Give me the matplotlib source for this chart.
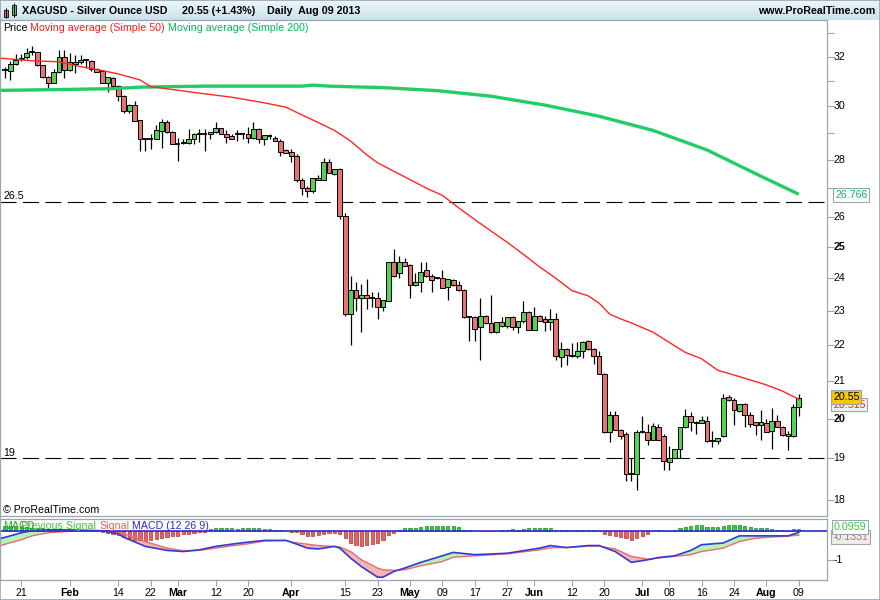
import matplotlib
matplotlib.use("Agg")
import matplotlib.pyplot as plt
import matplotlib.ticker as mticker
from matplotlib.patches import Rectangle
import numpy as np

plt.rcParams['font.family'] = ['Liberation Sans', 'DejaVu Sans']

W, H = 880, 600

#####################################
# XAGUSD daily, 16 Jan 2013 .. 09 Aug 2013 (one entry per weekday)
opens = [31.45, 31.43, 31.70, 31.90, 31.98, 32.18, 32.18, 31.64, 31.17, 30.94,
         31.36, 31.97, 31.45, 31.80, 31.77, 31.86, 31.83, 31.48, 31.43, 30.94,
         31.13, 30.80, 30.41, 29.81, 30.07, 29.47, 28.74, 28.74, 28.77, 29.06,
         29.39, 29.02, 28.58, 28.60, 28.62, 28.77, 28.93, 28.93, 28.93, 29.02,
         29.16, 28.93, 28.87, 28.96, 28.96, 28.93, 28.80, 29.12, 28.77, 28.87,
         28.80, 28.67, 28.35, 28.27, 28.13, 27.27, 26.97, 26.89, 27.35, 27.27,
         27.92, 27.49, 27.65, 26.02, 22.91, 23.64, 23.41, 23.49, 23.41, 23.41,
         23.11, 23.30, 24.53, 24.17, 24.50, 24.43, 23.79, 23.89, 24.25, 24.07,
         24.00, 24.00, 23.72, 23.96, 23.79, 23.64, 22.84, 22.84, 22.52, 22.86,
         22.65, 22.39, 22.67, 22.55, 22.82, 22.52, 22.70, 22.97, 22.44, 22.86,
         22.77, 22.67, 22.77, 21.66, 21.89, 21.71, 21.69, 21.83, 22.13, 21.89,
         21.69, 21.21, 19.65, 20.11, 19.72, 19.60, 18.61, 18.61, 19.66, 19.66,
         19.47, 19.80, 19.56, 18.91, 19.02, 19.24, 19.78, 20.08, 19.90, 19.90,
         19.94, 19.42, 19.42, 19.56, 20.57, 20.50, 20.20, 20.39, 20.09, 19.91,
         19.85, 19.88, 19.68, 19.95, 19.80, 19.56, 19.56, 20.30]
highs = [31.57, 31.83, 32.10, 32.10, 32.35, 32.45, 32.20, 31.66, 31.19, 31.48,
         32.28, 32.28, 32.14, 32.07, 32.07, 31.92, 31.86, 31.52, 31.46, 31.17,
         31.17, 30.86, 30.45, 30.10, 30.20, 29.47, 28.80, 28.96, 29.27, 29.50,
         29.47, 29.06, 28.80, 28.77, 29.12, 28.98, 29.12, 29.12, 29.03, 29.39,
         29.16, 29.10, 28.93, 29.08, 29.00, 29.20, 29.39, 29.16, 28.92, 28.93,
         28.87, 28.77, 28.40, 28.40, 28.20, 27.35, 27.05, 27.35, 27.43, 28.05,
         28.01, 27.65, 27.70, 26.13, 24.07, 23.88, 23.83, 23.97, 23.59, 23.59,
         23.34, 24.53, 24.92, 24.70, 24.63, 24.45, 24.17, 24.50, 24.53, 24.15,
         24.02, 24.27, 23.99, 23.98, 23.92, 23.66, 22.86, 22.86, 23.39, 22.88,
         23.49, 22.67, 22.84, 22.82, 22.86, 22.72, 23.30, 23.00, 23.13, 22.88,
         22.86, 23.06, 22.95, 22.10, 21.92, 22.07, 22.09, 22.13, 22.15, 21.92,
         21.83, 21.23, 20.20, 20.20, 19.74, 19.66, 19.00, 19.71, 20.08, 19.87,
         19.90, 19.86, 19.60, 19.30, 19.24, 19.80, 20.25, 20.18, 19.94, 20.08,
         20.08, 19.68, 19.52, 20.65, 20.62, 20.55, 20.39, 20.41, 20.18, 19.93,
         20.22, 20.00, 20.27, 20.09, 19.82, 19.69, 20.39, 20.66]
lows = [31.13, 31.05, 31.66, 31.83, 31.89, 32.07, 31.62, 31.13, 30.74, 30.92,
        31.32, 31.13, 31.43, 31.34, 31.70, 31.53, 31.43, 31.36, 30.92, 30.55,
        30.80, 30.22, 29.74, 29.74, 29.45, 28.31, 28.31, 28.40, 28.77, 28.44,
        29.00, 28.58, 27.93, 28.56, 28.56, 28.56, 28.63, 28.33, 28.77, 28.98,
        28.93, 28.60, 28.74, 28.67, 28.77, 28.62, 28.77, 28.62, 28.54, 28.74,
        28.67, 28.12, 28.23, 27.90, 27.19, 26.75, 26.68, 26.81, 27.27, 27.27,
        27.51, 27.45, 25.93, 22.86, 22.00, 23.00, 22.39, 23.06, 23.11, 22.77,
        23.00, 23.30, 24.05, 24.00, 24.38, 23.39, 23.76, 23.59, 24.05, 23.59,
        23.97, 23.70, 23.32, 23.77, 23.60, 22.80, 22.13, 22.13, 21.60, 22.63,
        22.37, 22.37, 22.53, 22.50, 22.45, 22.37, 22.66, 22.44, 22.44, 22.70,
        22.40, 22.45, 21.60, 21.40, 21.45, 21.66, 21.65, 21.65, 21.87, 21.48,
        21.19, 19.63, 19.40, 19.70, 19.49, 18.44, 18.44, 18.24, 19.64, 19.33,
        19.45, 19.45, 18.71, 18.71, 19.00, 19.02, 19.76, 19.69, 19.60, 19.88,
        19.40, 19.29, 19.35, 19.54, 20.48, 19.83, 20.17, 19.79, 19.79, 19.59,
        19.45, 19.65, 19.24, 19.78, 19.57, 19.20, 19.54, 20.08]
closes = [31.45, 31.70, 31.86, 31.96, 32.17, 32.18, 31.64, 31.17, 30.94, 31.36,
          31.97, 31.45, 31.80, 31.70, 31.86, 31.86, 31.48, 31.38, 30.94, 31.17,
          30.80, 30.41, 29.81, 30.07, 29.45, 28.77, 28.74, 28.74, 29.09, 29.39,
          29.02, 28.58, 28.58, 28.66, 28.77, 28.96, 28.93, 28.93, 29.03, 29.16,
          28.93, 28.85, 28.77, 28.96, 28.96, 28.80, 29.12, 28.74, 28.90, 28.87,
          28.67, 28.27, 28.25, 28.13, 27.27, 26.97, 26.89, 27.35, 27.27, 27.92,
          27.51, 27.65, 26.02, 22.91, 23.64, 23.39, 23.49, 23.39, 23.41, 23.11,
          23.34, 24.53, 24.07, 24.50, 24.40, 23.79, 23.89, 24.20, 24.07, 23.94,
          24.00, 23.70, 23.97, 23.79, 23.64, 22.82, 22.84, 22.46, 22.86, 22.65,
          22.39, 22.67, 22.55, 22.82, 22.52, 22.70, 22.97, 22.44, 22.86, 22.72,
          22.67, 22.77, 21.69, 21.89, 21.73, 21.71, 21.83, 22.10, 21.89, 21.71,
          21.21, 19.65, 20.11, 19.72, 19.56, 18.61, 18.61, 19.66, 19.66, 19.47,
          19.82, 19.47, 18.93, 19.02, 19.24, 19.78, 20.08, 19.91, 19.90, 19.96,
          19.42, 19.42, 19.52, 20.55, 20.50, 20.22, 20.39, 20.09, 19.87, 19.85,
          19.91, 19.67, 19.95, 19.80, 19.59, 19.62, 20.30, 20.55]

# moving averages, read at sample days (day index -> value)
ma50_idx = [-1, 5, 10, 14, 18, 21, 25, 27, 36, 42, 48, 52, 55, 58, 61, 64, 67, 69,
            72, 75, 78, 81, 84, 87, 90, 93, 96, 99, 102, 105, 108, 110, 112, 114,
            116, 120, 124, 126, 129, 132, 135, 137, 141, 144, 147]
ma50_val = [31.94, 31.83, 31.79, 31.59, 31.43, 31.29, 31.05, 30.78, 30.52, 30.36,
            30.14, 29.97, 29.67, 29.38, 29.08, 28.68, 28.17, 27.88, 27.58, 27.28,
            26.98, 26.73, 26.30, 25.90, 25.52, 25.15, 24.76, 24.36, 24.00, 23.62,
            23.46, 23.24, 22.91, 22.77, 22.65, 22.38, 21.99, 21.80, 21.62, 21.30,
            21.17, 21.08, 20.90, 20.73, 20.515]
ma200_idx = [-1, 12, 20, 25, 37, 55, 57, 60, 70, 80, 90, 100, 110, 120, 130, 140, 147]
ma200_val = [30.63, 30.67, 30.70, 30.76, 30.80, 30.80, 30.84, 30.80, 30.74, 30.62,
             30.40, 30.05, 29.62, 29.08, 28.35, 27.40, 26.766]

# MACD (12 26 9)
macd_idx = [-1, 1, 3, 5, 8, 12, 18, 21, 22, 26, 30, 33, 36, 39, 42, 45, 48, 52, 53, 56,
            58, 61, 62, 64, 66, 69, 70, 72, 74, 77, 81, 83, 87, 93, 99, 101, 104, 108,
            110, 113, 116, 119, 121, 124, 127, 129, 133, 136, 139, 142, 145, 147]
macd_val = [-0.26, -0.16, -0.05, 0.02, 0.05, 0.05, 0.02, -0.09, -0.21, -0.53,
            -0.67, -0.71, -0.65, -0.53, -0.45, -0.38, -0.32, -0.32, -0.38, -0.59,
            -0.62, -0.53, -0.59, -0.94, -1.24, -1.61, -1.61, -1.41, -1.29, -1.09,
            -0.86, -0.74, -0.82, -0.77, -0.59, -0.50, -0.57, -0.50, -0.50, -0.71,
            -1.09, -1.00, -0.92, -0.86, -0.67, -0.47, -0.41, -0.16, -0.16, -0.16,
            -0.16, -0.04]
signal_val = [-0.51, -0.40, -0.30, -0.16, -0.05, 0.00, 0.02, -0.02, -0.08, -0.36,
              -0.59, -0.68, -0.67, -0.59, -0.51, -0.44, -0.34, -0.32, -0.38, -0.45,
              -0.50, -0.53, -0.55, -0.71, -1.00, -1.29, -1.35, -1.37, -1.35, -1.21,
              -1.06, -0.91, -0.86, -0.79, -0.65, -0.58, -0.57, -0.52, -0.52, -0.62,
              -0.88, -0.98, -0.94, -0.88, -0.82, -0.71, -0.59, -0.36, -0.24, -0.20,
              -0.17, -0.133]
histo = [0.20, 0.20, 0.18, 0.17, 0.15, 0.13, 0.11, 0.10, 0.08, 0.08,
         0.07, 0.06, 0.05, 0.05, 0.04, 0.03, 0.02, 0.01, -0.03, -0.05,
         -0.08, -0.13, -0.19, -0.25, -0.29, -0.31, -0.33, -0.31, -0.28, -0.23,
         -0.19, -0.17, -0.15, -0.11, -0.08, -0.05, -0.03, -0.01, 0.09, 0.10,
         0.10, 0.10, 0.10, 0.09, 0.10, 0.10, 0.10, 0.10, 0.09, 0.08,
         0.06, 0.04, 0.01, -0.01, -0.03, -0.08, -0.15, -0.15, -0.12, -0.08,
         -0.05, -0.06, -0.08, -0.22, -0.40, -0.49, -0.50, -0.49, -0.45, -0.40,
         -0.31, -0.13, -0.05, 0.04, 0.10, 0.10, 0.13, 0.16, 0.19, 0.20,
         0.20, 0.18, 0.18, 0.18, 0.16, 0.06, 0.04, 0.00, 0.00, 0.00,
         0.00, 0.00, 0.04, 0.06, 0.08, 0.06, 0.09, 0.10, 0.10, 0.10,
         0.12, 0.13, 0.06, 0.04, 0.04, 0.00, 0.04, 0.04, 0.04, 0.04,
         0.00, -0.11, -0.13, -0.17, -0.19, -0.22, -0.29, -0.22, -0.16, -0.08,
         0.00, 0.04, 0.00, 0.00, 0.04, 0.10, 0.16, 0.18, 0.22, 0.22,
         0.16, 0.16, 0.16, 0.19, 0.22, 0.22, 0.22, 0.19, 0.16, 0.10,
         0.10, 0.10, 0.08, 0.04, 0.04, 0.00, 0.08, 0.0959]

# date axis
tick_idx = [3, 12, 21, 27, 32, 39, 45, 53, 63, 69, 75, 81, 87, 93, 98, 105, 111,
            118, 123, 129, 135, 141, 147]
tick_lbl = ['21', 'Feb', '14', '22', 'Mar', '12', '20', 'Apr', '15', '23', 'May', '09',
            '17', '27', 'Jun', '12', '20', 'Jul', '08', '16', '24', 'Aug', '09']
price_ticks = [18, 19, 20, 21, 22, 23, 24, 25, 26, 28, 30, 32]
price_minor = [27, 29, 31, 33]
support_levels = [26.5, 19]

#####################################
axcol = '#9aa5ae'
up_col = '#52d452'
dn_col = '#e97171'

fig = plt.figure(figsize=(W / 100, H / 100), dpi=100)


def px_axes(x0, y0, x1, y1):
    return fig.add_axes([x0 / W, 1 - y1 / H, (x1 - x0) / W, (y1 - y0) / H])


def ptext(x, y, s, **kw):
    kw.setdefault('va', 'center')
    kw.setdefault('fontsize', 7.7)
    return fig.text(x / W, 1 - y / H, s, **kw)


def seq_text(x, y, parts, gap=3, **kw):
    r = fig.canvas.get_renderer()
    for s, col in parts:
        t = ptext(x, y, s, color=col, **kw)
        x += t.get_window_extent(renderer=r).width + gap


xlim = (-5 / 5.4, (827 - 5) / 5.4)

####### header ########
axh = px_axes(0, 0, 880, 20)
top = np.array([236, 247, 252]) / 255
bot = np.array([204, 226, 236]) / 255
grad = np.linspace(0, 1, 20)[:, None, None] * (bot - top) + top
axh.imshow(np.repeat(grad, 2, axis=1), extent=(0, 880, 20, 0), aspect='auto')
axh.set_xlim(0, 880)
axh.set_ylim(20, 0)
axh.axis('off')
axh.vlines([5.8, 13.8], [8.3, 2.7], [18.3, 16.7], color='black', lw=0.8)
axh.add_patch(Rectangle((3.6, 10), 4.4, 6.5, fc=dn_col, ec='black', lw=0.6))
axh.add_patch(Rectangle((11.6, 5), 4.4, 10, fc=up_col, ec='black', lw=0.6))
ptext(22, 10.5, 'XAGUSD - Silver Ounce USD', fontweight='bold')
ptext(182, 10.5, '20.55 (+1.43%)', fontweight='bold')
ptext(267, 10.5, 'Daily  Aug 09 2013', fontweight='bold')
ptext(875, 10.5, 'www.ProRealTime.com', fontweight='bold', ha='right')

####### price panel ########
ax = px_axes(0, 20, 827, 516)
idx = np.arange(len(closes))
o, h, l, c = map(np.array, (opens, highs, lows, closes))
flat = np.abs(c - o) < 0.03
up = (c > o) & ~flat
dn = (c < o) & ~flat
ax.vlines(idx, l, h, color='black', lw=0.9, zorder=2)
ax.bar(idx[up], (c - o)[up], bottom=o[up], width=0.88, color=up_col,
       edgecolor='black', linewidth=0.7, zorder=3)
ax.bar(idx[dn], (o - c)[dn], bottom=c[dn], width=0.88, color=dn_col,
       edgecolor='black', linewidth=0.7, zorder=3)
ax.hlines(c[flat], idx[flat] - 0.47, idx[flat] + 0.47, color='black', lw=1.3, zorder=3)

ax.plot(ma200_idx, ma200_val, color='#22cc66', lw=2.4, zorder=4, solid_capstyle='butt')
ax.plot(ma50_idx, ma50_val, color='#ff2626', lw=1.0, zorder=4)

for lev in support_levels:
    ax.axhline(lev, color='black', lw=0.8, dashes=(14.4, 5.8), zorder=1)

ax.set_yscale('log')
ax.set_ylim(17.63, 33.56)
ax.set_xlim(*xlim)
ax.yaxis.set_major_locator(mticker.FixedLocator(price_ticks))
ax.yaxis.set_minor_locator(mticker.FixedLocator(price_minor))
ax.yaxis.set_major_formatter(mticker.NullFormatter())
ax.yaxis.set_minor_formatter(mticker.NullFormatter())
ax.yaxis.tick_right()
ax.tick_params(axis='y', which='both', direction='out', length=5, width=0.8,
               color=axcol, labelright=False, labelleft=False)
ax.tick_params(axis='x', bottom=False, labelbottom=False)
for sp in ax.spines.values():
    sp.set_color(axcol)
    sp.set_linewidth(0.9)
ytr = ax.get_yaxis_transform(which='grid')
for p in price_ticks:
    ax.text(1 + 6.5 / 827, p, str(p), transform=ytr, va='center', ha='left', fontsize=7.7,
            fontweight='bold' if p in (20, 25) else 'normal', clip_on=False)

ptext(3, 196, '26.5')
ptext(3, 453, '19')
ptext(3, 510, '\u00a9 ProRealTime.com')
seq_text(2.7, 28.3, [('Price', 'black'), ('Moving average (Simple 50)', '#ff1a1a'),
                     ('Moving average (Simple 200)', '#00b85a')])

# last-value boxes
ptext(835, 195, '26.766', color='#00c060',
      bbox=dict(boxstyle='square,pad=0.15', fc='white', ec=axcol, lw=0.8))
ptext(833, 404.5, '20.515', color='#ff2020',
      bbox=dict(boxstyle='square,pad=0.15', fc='#f2f2f2', ec=axcol, lw=0.8))
ptext(833, 397, '20.55', color='black',
      bbox=dict(boxstyle='square,pad=0.15', fc='#f7c700', ec=axcol, lw=0.8))

####### MACD panel ########
ax2 = px_axes(0, 519, 827, 580)
hv = np.array(histo)
pos = hv > 0
ax2.bar(idx[pos], hv[pos], width=0.62, color='#33cc33', edgecolor='#1c8c1c', linewidth=0.5, zorder=2)
ax2.bar(idx[~pos], hv[~pos], width=0.62, color='#e06464', edgecolor='#b03434', linewidth=0.5, zorder=2)
mi = np.array(macd_idx, dtype=float)
mv = np.array(macd_val)
sv = np.array(signal_val)
ax2.fill_between(mi, mv, sv, where=mv >= sv, interpolate=True, color='#b6f2b6', lw=0, zorder=1)
ax2.fill_between(mi, mv, sv, where=mv < sv, interpolate=True, color='#f2b6b6', lw=0, zorder=1)
ax2.plot(mi, sv, color='#e86c6c', lw=1.0, zorder=3)
ax2.plot(mi, mv, color='#3838d8', lw=1.2, zorder=4)
ax2.axhline(0, color='#2a2ad0', lw=1.2, zorder=3)
ax2.set_xlim(*xlim)
ax2.set_ylim(-1.709, 0.432)
ax2.set_yticks([-1])
ax2.yaxis.tick_right()
ax2.tick_params(axis='y', direction='out', length=5, width=0.8, color=axcol,
                labelright=False, labelleft=False)
ax2.set_xticks(tick_idx)
ax2.set_xticklabels(tick_lbl)
ax2.tick_params(axis='x', direction='out', length=4, width=0.8, color=axcol,
                labelsize=7.7, pad=2)
for t in ax2.get_xticklabels():
    if t.get_text().isalpha():
        t.set_fontweight('bold')
for sp in ax2.spines.values():
    sp.set_color(axcol)
    sp.set_linewidth(0.9)
ax2.text(1 + 6.5 / 827, -1, '-1', transform=ax2.get_yaxis_transform(which='grid'),
         va='center', ha='left', fontsize=7.7, clip_on=False)

# legend row of the MACD panel (labels overlap in the original too)
ptext(21, 526, 'Previous Signal', color='#3cc83c')
ptext(3, 526, 'MACD', color='#22aa22')
seq_text(99, 526, [('Signal', '#e86060'), ('MACD (12 26 9)', '#2a2ad0')])
ptext(833, 537, '-0.1331', color='#e86060',
      bbox=dict(boxstyle='square,pad=0.15', fc='#eeeeee', ec=axcol, lw=0.8))
ptext(834, 527, '0.0959', color='#33cc33',
      bbox=dict(boxstyle='square,pad=0.15', fc='white', ec=axcol, lw=0.8))

# outer frame
fig.patches.append(Rectangle((0, 0), 1, 1, transform=fig.transFigure, fill=False,
                             ec=axcol, lw=1.2))

fig.savefig('out.png', dpi=100)
